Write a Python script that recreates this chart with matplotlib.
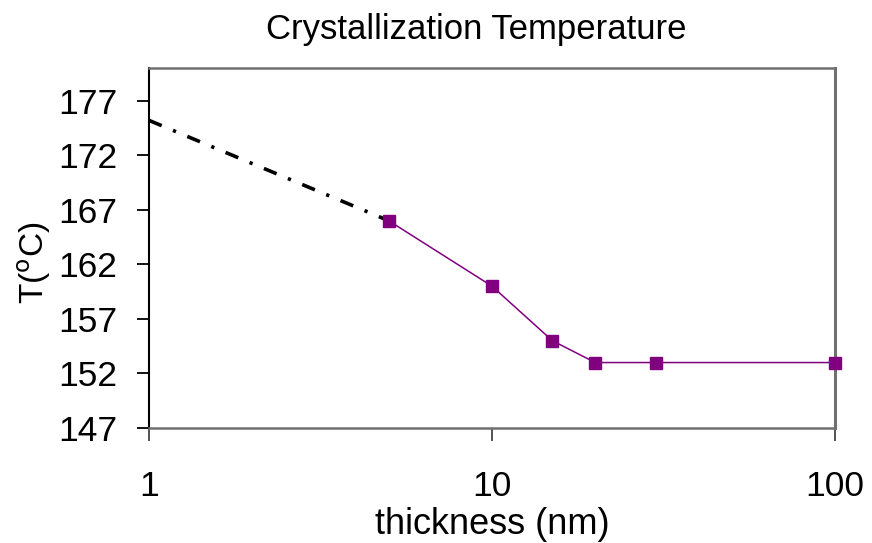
import matplotlib
matplotlib.use("Agg")
import matplotlib.pyplot as plt

thickness = [5, 10, 15, 20, 30, 100]
temperature = [166, 160, 155, 153, 153, 153]
extrap_x = [1, 5]
extrap_y = [175.2, 166]
yticks = [147, 152, 157, 162, 167, 172, 177]
xticks = [1, 10, 100]
xticklabels = ["1", "10", "100"]

plt.rcParams['font.family'] = ['Liberation Sans', 'DejaVu Sans']

fig = plt.figure(figsize=(8.72, 5.43), dpi=100)
ax = fig.add_axes([149/872, 1 - 428/543, (835-149)/872, (428-68)/543])

ax.plot(extrap_x, extrap_y, color='black', lw=2.6,
        dashes=(3.8, 3.4, 0.9, 3.4), zorder=3)
ax.plot(thickness, temperature, color='#800080', lw=1.1, marker='s',
        markersize=8, markerfacecolor='#800080', markeredgecolor='#800080',
        zorder=4, clip_on=False)

ax.set_xscale('log')
ax.set_xlim(1, 100)
ax.set_ylim(147, 180)
ax.set_xticks(xticks)
ax.set_xticklabels(xticklabels)
ax.minorticks_off()
ax.set_yticks(yticks)

ax.tick_params(axis='y', direction='out', length=9, width=1.3, pad=14,
               labelsize=25.5, colors='black')
ax.tick_params(axis='x', direction='out', length=9, width=1.3, pad=21,
               labelsize=25.5, colors='black')
ax.xaxis.set_tick_params(which='both', color='#444444')

ax.spines['left'].set_color('black')
ax.spines['left'].set_linewidth(1.5)
ax.spines['bottom'].set_color('#707070')
ax.spines['bottom'].set_linewidth(1.8)
ax.spines['top'].set_color('#707070')
ax.spines['top'].set_linewidth(1.8)
ax.spines['right'].set_color('#707070')
ax.spines['right'].set_linewidth(2.2)

fig.text(476/872, 1 - 30/543, 'Crystallization Temperature', fontsize=25,
         ha='center', va='center')
ax.set_xlabel('thickness (nm)', fontsize=26, labelpad=3)
ax.set_ylabel('T($^{\\rm o}$C)', fontsize=24, labelpad=2)
ax.yaxis.set_label_coords(-0.14, 0.46)

fig.savefig('out.png', dpi=100)
